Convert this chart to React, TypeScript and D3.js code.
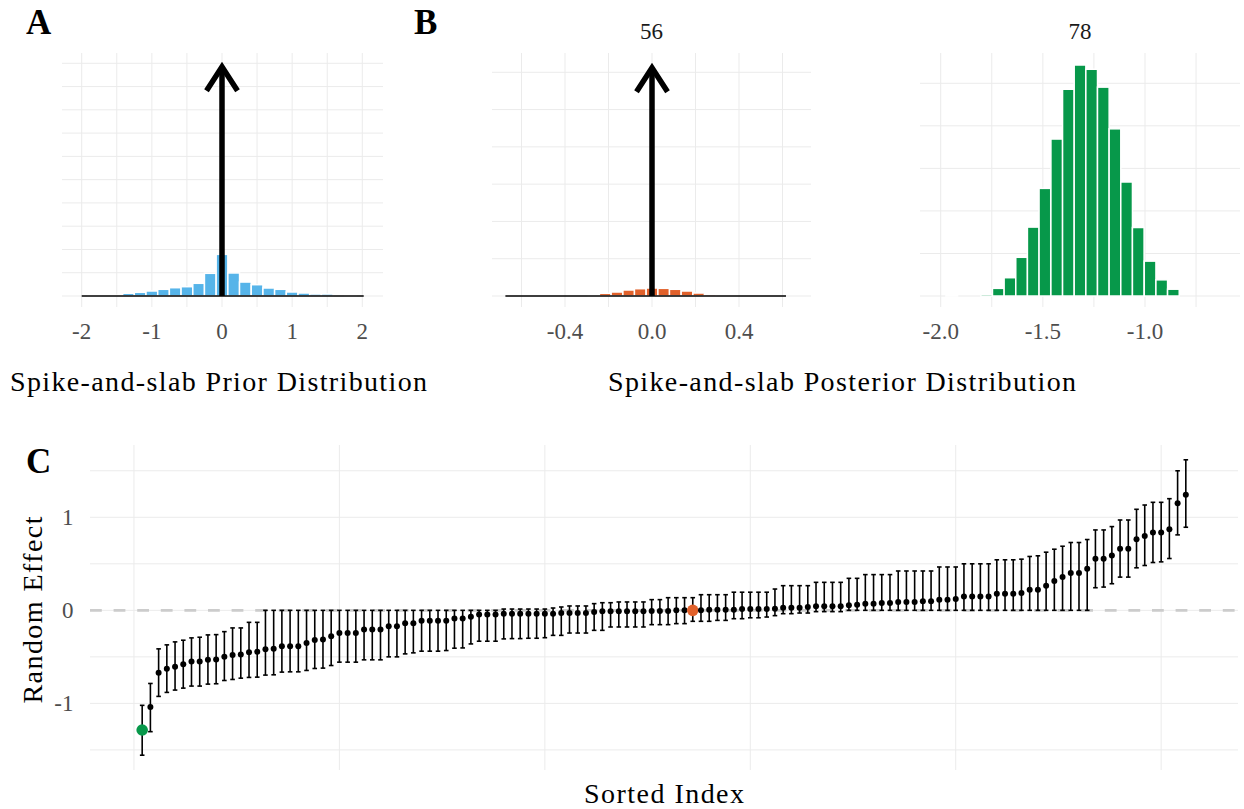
import React from "react";
import * as d3 from "d3";

const W = 1244;
const H = 809;
const FONT = "'Liberation Serif', 'Times New Roman', serif";
const GRID = "#EBEBEB";
const TICK = "#4D4D4D";
const BLUE = "#56B4E9";
const ORANGE = "#E1612B";
const GREEN = "#07984A";

// ---------- Panel A: prior slab histogram ----------
const priorBinCenters = [-1.833, -1.5, -1.333, -1.167, -1.0, -0.833, -0.667, -0.5, -0.333, -0.167, 0, 0.167, 0.333, 0.5, 0.667, 0.833, 1.0, 1.167, 1.333, 1.5, 1.833];
const priorHeights = [0.02, 0.03, 0.116, 0.159, 0.215, 0.288, 0.357, 0.4, 0.546, 0.975, 1.79, 0.99, 0.6, 0.486, 0.344, 0.288, 0.172, 0.129, 0.086, 0.086, 0.02];
const priorBinWidth = 0.1667;
const priorTicks = [-2, -1, 0, 1, 2];
const priorSpikeTop = 9.85;
const priorSegment = [-2, 2.02];

// ---------- Panel B left: posterior for group 56 ----------
const postABinCenters = [-0.268, -0.215, -0.161, -0.107, -0.054, 0, 0.054, 0.107, 0.161, 0.215, 0.268];
const postAHeights = [0.02, 0.072, 0.107, 0.161, 0.196, 0.214, 0.206, 0.18, 0.134, 0.08, 0.045];
const postABinWidth = 0.0536;
const postATicks = [-0.4, 0.0, 0.4];
const postASpikeTop = 6.12;
const postASegment = [-0.674, 0.616];
const postATitle = "56";

// ---------- Panel B right: posterior for group 78 ----------
const postBBinCenters = [-1.946, -1.775, -1.718, -1.661, -1.604, -1.547, -1.49, -1.432, -1.375, -1.318, -1.261, -1.204, -1.147, -1.09, -1.033, -0.975, -0.918, -0.861];
const postBHeights = [0.01, 0.04, 0.18, 0.43, 0.91, 1.62, 2.53, 3.69, 4.86, 5.43, 5.33, 4.91, 3.93, 2.68, 1.61, 0.82, 0.38, 0.16];
const postBBinWidth = 0.0571;
const postBTicks = [-2.0, -1.5, -1.0];
const postBTitle = "78";

// ---------- Panel C: sorted random effects ----------
const effectMean = [
  -1.286, -1.039, -0.671, -0.629, -0.607, -0.579, -0.55, -0.55, -0.532, -0.529,
  -0.5, -0.479, -0.475, -0.45, -0.446, -0.418, -0.414, -0.386, -0.386, -0.386,
  -0.35, -0.318, -0.314, -0.279, -0.243, -0.243, -0.243, -0.207, -0.207, -0.207,
  -0.171, -0.171, -0.139, -0.139, -0.111, -0.111, -0.111, -0.111, -0.089, -0.089,
  -0.068, -0.046, -0.046, -0.046, -0.036, -0.036, -0.036, -0.036, -0.036, -0.036,
  -0.036, -0.029, -0.029, -0.029, -0.029, -0.018, -0.011, -0.011, -0.011, -0.011,
  -0.011, -0.011, -0.007, -0.007, -0.007, 0, 0, 0, 0, 0.007,
  0.007, 0.007, 0.007, 0.014, 0.014, 0.014, 0.014, 0.018, 0.029, 0.029,
  0.029, 0.036, 0.043, 0.043, 0.043, 0.043, 0.054, 0.061, 0.072, 0.072,
  0.079, 0.079, 0.09, 0.09, 0.09, 0.097, 0.097, 0.115, 0.115, 0.122,
  0.15, 0.15, 0.15, 0.15, 0.179, 0.179, 0.179, 0.186, 0.221, 0.221,
  0.264, 0.314, 0.357, 0.4, 0.4, 0.446, 0.554, 0.554, 0.589, 0.661,
  0.661, 0.764, 0.8, 0.836, 0.836, 0.871, 1.15, 1.243,
];
const effectLower = [
  -1.557, -1.304, -0.925, -0.882, -0.857, -0.836, -0.814, -0.814, -0.793, -0.789,
  -0.754, -0.743, -0.729, -0.721, -0.718, -0.696, -0.693, -0.664, -0.661, -0.661,
  -0.646, -0.625, -0.621, -0.593, -0.557, -0.557, -0.557, -0.532, -0.532, -0.532,
  -0.5, -0.5, -0.468, -0.457, -0.439, -0.439, -0.439, -0.432, -0.407, -0.404,
  -0.361, -0.332, -0.332, -0.332, -0.307, -0.304, -0.304, -0.3, -0.3, -0.294,
  -0.269, -0.269, -0.244, -0.244, -0.244, -0.215, -0.215, -0.179, -0.179, -0.179,
  -0.179, -0.179, -0.154, -0.154, -0.154, -0.143, -0.143, -0.118, -0.118, -0.118,
  -0.108, -0.108, -0.09, -0.09, -0.08, -0.08, -0.072, -0.057, -0.036, -0.036,
  -0.029, -0.029, -0.014, -0.014, -0.014, -0.014, 0, 0, 0, 0,
  0, 0, 0, 0, 0, 0, 0, 0, 0, 0,
  0, 0, 0, 0, 0, 0, 0, 0, 0, 0,
  0, 0, 0, 0, 0, 0, 0.243, 0.25, 0.286, 0.357,
  0.357, 0.457, 0.482, 0.514, 0.521, 0.557, 0.811, 0.893,
];
const effectUpper = [
  -1.021, -0.786, -0.414, -0.371, -0.339, -0.321, -0.296, -0.289, -0.264, -0.261,
  -0.229, -0.189, -0.189, -0.129, -0.129, 0, 0, 0, 0, 0,
  0, 0, 0, 0, 0, 0, 0, 0, 0, 0,
  0, 0, 0, 0, 0, 0, 0, 0, 0, 0,
  0, 0, 0, 0, 0.014, 0.014, 0.014, 0.014, 0.014, 0.014,
  0.025, 0.036, 0.047, 0.047, 0.047, 0.072, 0.082, 0.082, 0.09, 0.09,
  0.09, 0.09, 0.115, 0.115, 0.136, 0.136, 0.136, 0.136, 0.168, 0.168,
  0.168, 0.168, 0.195, 0.195, 0.195, 0.195, 0.195, 0.229, 0.265, 0.265,
  0.265, 0.265, 0.301, 0.301, 0.301, 0.301, 0.344, 0.344, 0.384, 0.384,
  0.384, 0.384, 0.423, 0.423, 0.423, 0.423, 0.423, 0.466, 0.466, 0.466,
  0.5, 0.5, 0.5, 0.5, 0.543, 0.543, 0.543, 0.55, 0.579, 0.586,
  0.625, 0.657, 0.689, 0.729, 0.729, 0.761, 0.864, 0.864, 0.9, 0.971,
  0.971, 1.086, 1.132, 1.161, 1.161, 1.2, 1.5, 1.618,
];
const highlightGreenIndex = 1;
const highlightOrangeIndex = 68;
const effectYTicks = [-1, 0, 1];
const effectYGrid = [-1.5, -1, -0.5, 0, 0.5, 1, 1.5];
const effectXGrid = [0, 25, 50, 75, 100, 125];

type HistProps = {
  x: d3.ScaleLinear<number, number>;
  y: d3.ScaleLinear<number, number>;
  left: number;
  right: number;
  top: number;
  bottom: number;
  vGrid: number[];
  hGrid: number[];
  centers: number[];
  heights: number[];
  binWidth: number;
  color: string;
  ticks: number[];
  fmt: (v: number) => string;
  spikeTop?: number;
  segment?: number[];
  title?: string;
};

function HistPanel(p: HistProps) {
  const x0 = p.x(0);
  const tipY = p.spikeTop != null ? p.y(p.spikeTop) : 0;
  return (
    <g>
      {p.vGrid.map((v) => (
        <line key={"v" + v} x1={p.x(v)} x2={p.x(v)} y1={p.top} y2={p.bottom} stroke={GRID} strokeWidth={1} />
      ))}
      {p.hGrid.map((h) => (
        <line key={"h" + h} x1={p.left} x2={p.right} y1={p.y(h)} y2={p.y(h)} stroke={GRID} strokeWidth={1} />
      ))}
      {p.centers.map((c, i) => {
        const xa = p.x(c - p.binWidth / 2);
        const xb = p.x(c + p.binWidth / 2);
        return (
          <rect
            key={"b" + i}
            x={xa}
            width={xb - xa}
            y={p.y(p.heights[i])}
            height={p.y(0) - p.y(p.heights[i])}
            fill={p.color}
            stroke="#ffffff"
            strokeWidth={1.5}
          />
        );
      })}
      {p.segment && (
        <line x1={p.x(p.segment[0])} x2={p.x(p.segment[1])} y1={p.y(0)} y2={p.y(0)} stroke="#000" strokeWidth={1.3} />
      )}
      {p.spikeTop != null && (
        <g stroke="#000" strokeWidth={5.5} fill="none">
          <line x1={x0} x2={x0} y1={p.y(0)} y2={tipY} />
          <polyline
            points={`${x0 - 15.5},${tipY + 24} ${x0},${tipY} ${x0 + 15.5},${tipY + 24}`}
            strokeLinejoin="miter"
            strokeMiterlimit={10}
          />
        </g>
      )}
      {p.ticks.map((t) => (
        <text key={"t" + t} x={p.x(t)} y={338.5} textAnchor="middle" fontSize={23} fill={TICK} fontFamily={FONT}>
          {p.fmt(t)}
        </text>
      ))}
      {p.title && (
        <text x={(p.left + p.right) / 2} y={39} textAnchor="middle" fontSize={23} fill="#1a1a1a" fontFamily={FONT}>
          {p.title}
        </text>
      )}
    </g>
  );
}

export default function App() {
  // Panel A scales
  const xA = d3.scaleLinear().domain([-2, 2]).range([81.7, 362.3]);
  const yA = d3.scaleLinear().domain([0, 10]).range([296, 63.3]);
  // Panel B left
  const xB1 = d3.scaleLinear().domain([-0.4, 0.4]).range([565, 739]);
  const yB1 = d3.scaleLinear().domain([0, 6]).range([296, 72.3]);
  // Panel B right
  const xB2 = d3.scaleLinear().domain([-2, -1]).range([940.7, 1145]);
  const yB2 = d3.scaleLinear().domain([0, 5]).range([296, 83.3]);
  // Panel C
  const xC = d3.scaleLinear().domain([-5.35, 134.35]).range([90, 1238]);
  const yC = d3.scaleLinear().domain([-1.716, 1.777]).range([770, 445]);

  const idx = d3.range(1, effectMean.length + 1);

  return (
    <svg
      width={W}
      height={H}
      viewBox={`0 0 ${W} ${H}`}
      style={{ position: "absolute", left: 0, top: 0, background: "#fff" }}
      fontFamily={FONT}
    >
      <rect x={0} y={0} width={W} height={H} fill="#fff" />

      {/* Panel A */}
      <HistPanel
        x={xA}
        y={yA}
        left={62}
        right={383}
        top={53}
        bottom={307}
        vGrid={[-2, -1.5, -1, -0.5, 0, 0.5, 1, 1.5, 2]}
        hGrid={d3.range(0, 11)}
        centers={priorBinCenters}
        heights={priorHeights}
        binWidth={priorBinWidth}
        color={BLUE}
        ticks={priorTicks}
        fmt={(v) => String(v)}
        spikeTop={priorSpikeTop}
        segment={priorSegment}
      />
      <text x={218.5} y={391} textAnchor="middle" fontSize={28} textLength={417} lengthAdjust="spacing">
        Spike-and-slab Prior Distribution
      </text>

      {/* Panel B left */}
      <HistPanel
        x={xB1}
        y={yB1}
        left={492}
        right={811}
        top={53}
        bottom={307}
        vGrid={[-0.6, -0.4, -0.2, 0, 0.2, 0.4, 0.6]}
        hGrid={d3.range(0, 7)}
        centers={postABinCenters}
        heights={postAHeights}
        binWidth={postABinWidth}
        color={ORANGE}
        ticks={postATicks}
        fmt={(v) => v.toFixed(1)}
        spikeTop={postASpikeTop}
        segment={postASegment}
        title={postATitle}
      />
      {/* Panel B right */}
      <HistPanel
        x={xB2}
        y={yB2}
        left={920}
        right={1240}
        top={53}
        bottom={307}
        vGrid={[-2, -1.75, -1.5, -1.25, -1, -0.75]}
        hGrid={d3.range(0, 6)}
        centers={postBBinCenters}
        heights={postBHeights}
        binWidth={postBBinWidth}
        color={GREEN}
        ticks={postBTicks}
        fmt={(v) => v.toFixed(1)}
        title={postBTitle}
      />
      <text x={842} y={391} textAnchor="middle" fontSize={28} textLength={468} lengthAdjust="spacing">
        Spike-and-slab Posterior Distribution
      </text>

      {/* Panel C */}
      <g>
        {effectXGrid.map((v) => (
          <line key={"cv" + v} x1={xC(v)} x2={xC(v)} y1={445} y2={770} stroke={GRID} strokeWidth={1} />
        ))}
        {effectYGrid.map((v) => (
          <line key={"ch" + v} x1={90} x2={1238} y1={yC(v)} y2={yC(v)} stroke={GRID} strokeWidth={1} />
        ))}
        <line
          x1={90}
          x2={1238}
          y1={yC(0)}
          y2={yC(0)}
          stroke="#CCCCCC"
          strokeWidth={2.7}
          strokeDasharray="11.8 11.8"
        />
        {idx.map((i, k) => {
          const cx = xC(i);
          const yl = yC(effectLower[k]);
          const yu = yC(effectUpper[k]);
          return (
            <g key={"e" + i} stroke="#000" strokeWidth={1.6}>
              <line x1={cx} x2={cx} y1={yl} y2={yu} />
              <line x1={cx - 2.3} x2={cx + 2.3} y1={yl} y2={yl} />
              <line x1={cx - 2.3} x2={cx + 2.3} y1={yu} y2={yu} />
            </g>
          );
        })}
        {idx.map((i, k) => {
          const isG = i === highlightGreenIndex;
          const isO = i === highlightOrangeIndex;
          return (
            <circle
              key={"p" + i}
              cx={xC(i)}
              cy={yC(effectMean[k])}
              r={isG || isO ? 5.8 : 3}
              fill={isG ? GREEN : isO ? ORANGE : "#000"}
            />
          );
        })}
        {effectYTicks.map((t) => (
          <text key={"cy" + t} x={73.5} y={yC(t) + 7.5} textAnchor="end" fontSize={23} fill={TICK}>
            {String(t)}
          </text>
        ))}
        <text x={664} y={803} textAnchor="middle" fontSize={28} textLength={160} lengthAdjust="spacing">
          Sorted Index
        </text>
        <text
          transform={`translate(41.5, 610) rotate(-90)`}
          textAnchor="middle"
          fontSize={28}
          textLength={187}
          lengthAdjust="spacing"
        >
          Random Effect
        </text>
      </g>

      {/* Tags */}
      <text x={26} y={34} fontSize={35} fontWeight="bold">A</text>
      <text x={414} y={34} fontSize={35} fontWeight="bold">B</text>
      <text x={26} y={473} fontSize={35} fontWeight="bold">C</text>
    </svg>
  );
}
